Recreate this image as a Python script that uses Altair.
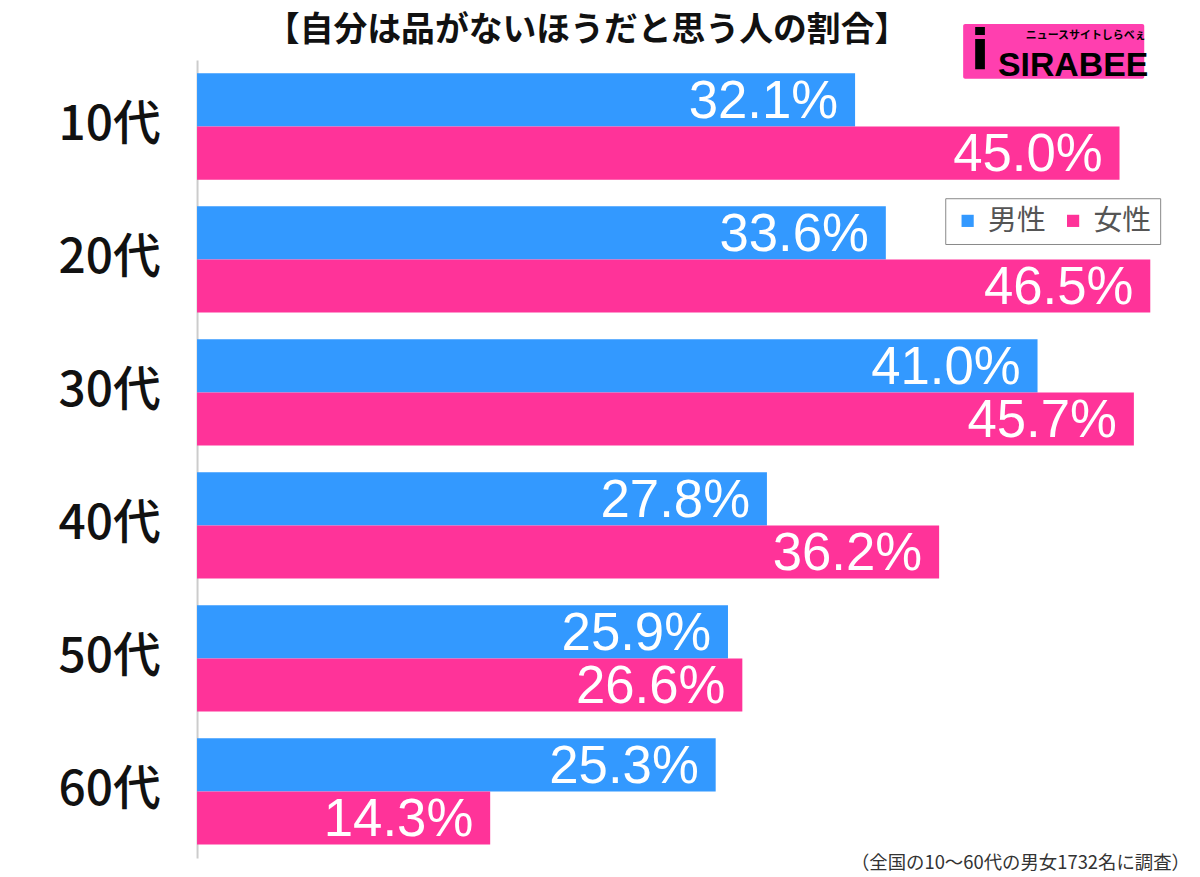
import altair as alt
import pandas as pd

ages = ["10代", "20代", "30代", "40代", "50代", "60代"]
male = [32.1, 33.6, 41.0, 27.8, 25.9, 25.3]
female = [45.0, 46.5, 45.7, 36.2, 26.6, 14.3]
sexes = ["男性", "女性"]
colors = ["#3399FF", "#FF3399"]

title_text = "【自分は品がないほうだと思う人の割合】"
footnote_text = "（全国の10〜60代の男女1732名に調査）"

rows = []
for a, m, f in zip(ages, male, female):
    rows.append({"age": a, "sex": "男性", "value": m, "label": f"{m:.1f}%"})
    rows.append({"age": a, "sex": "女性", "value": f, "label": f"{f:.1f}%"})
df = pd.DataFrame(rows)

y_enc = alt.Y("age:N", sort=ages,
              scale=alt.Scale(paddingInner=0.2, paddingOuter=0.1),
              axis=alt.Axis(title=None, ticks=False, labelPadding=37,
                            labelFontSize=48, labelFont="Noto Sans CJK JP",
                            labelFontWeight=500, labelColor="#111",
                            domainColor="#cccccc", domainWidth=2, grid=False))
yoff_enc = alt.YOffset("sex:N", sort=sexes,
                       scale=alt.Scale(paddingInner=0, paddingOuter=0))
x_enc = alt.X("value:Q", scale=alt.Scale(domain=[0, 48.05], nice=False, zero=True),
              axis=None)

base = alt.Chart(df)

bars = base.mark_bar().encode(
    x=x_enc, y=y_enc, yOffset=yoff_enc,
    color=alt.Color("sex:N", sort=sexes,
                    scale=alt.Scale(domain=sexes, range=colors),
                    legend=alt.Legend(title=None, orient="none", legendX=752, legendY=139,
                                      direction="horizontal", symbolType="square",
                                      symbolSize=150, symbolStrokeWidth=0,
                                      labelFontSize=29, labelFont="Noto Sans CJK JP",
                                      labelColor="#555", strokeColor="#888",
                                      fillColor="white", padding=8, columnPadding=12,
                                      labelOffset=6)),
)

labels = base.mark_text(align="right", baseline="middle", dx=-17, dy=2,
                        fontSize=53, font="Liberation Sans", color="white").encode(
    x=x_enc, y=alt.Y("age:N", sort=ages), yOffset=alt.YOffset("sex:N", sort=sexes), text="label:N"
)

title = alt.Chart(pd.DataFrame({"t": [title_text]})).mark_text(
    fontSize=34, fontWeight="bold", font="Noto Sans CJK JP", color="#111",
    align="center", baseline="middle").encode(
    x=alt.value(392), y=alt.value(-29), text="t:N")

foot = alt.Chart(pd.DataFrame({"t": [footnote_text]})).mark_text(
    fontSize=18.5, font="Noto Sans CJK JP", color="#333",
    align="right", baseline="middle").encode(
    x=alt.value(998), y=alt.value(807), text="t:N")

logo_box = alt.Chart(pd.DataFrame({"t": ["logo"]})).mark_rect(color="#FF3FAF", cornerRadius=2).encode(
    x=alt.value(770), x2=alt.value(952), y=alt.value(-36), y2=alt.value(19))
logo_i = alt.Chart(pd.DataFrame({"t": ["i"]})).mark_text(
    fontSize=56, fontWeight="bold", font="DejaVu Sans", color="black",
    align="center", baseline="middle").encode(
    x=alt.value(787), y=alt.value(-8), text="t:N")
logo_main = alt.Chart(pd.DataFrame({"t": ["SIRABEE"]})).mark_text(
    fontSize=34, fontWeight="bold", font="Liberation Sans",
    color="black", align="left", baseline="middle").encode(
    x=alt.value(805), y=alt.value(6), text="t:N")
logo_sub = alt.Chart(pd.DataFrame({"t": ["ニュースサイトしらべぇ"]})).mark_text(
    fontSize=11, fontWeight="bold", font="Noto Sans CJK JP",
    color="black", align="left", baseline="middle").encode(
    x=alt.value(833), y=alt.value(-24), text="t:N")

chart = alt.layer(bars, labels, title, foot, logo_box, logo_i, logo_main, logo_sub).properties(
    width=990, height=802,
    autosize=alt.AutoSizeParams(type="none"),
    padding={"left": 190, "top": 50, "right": 10, "bottom": 15},
    background="white",
).configure_view(stroke=None)

chart.save("out.html", embed_options={"renderer": "svg", "actions": False})
